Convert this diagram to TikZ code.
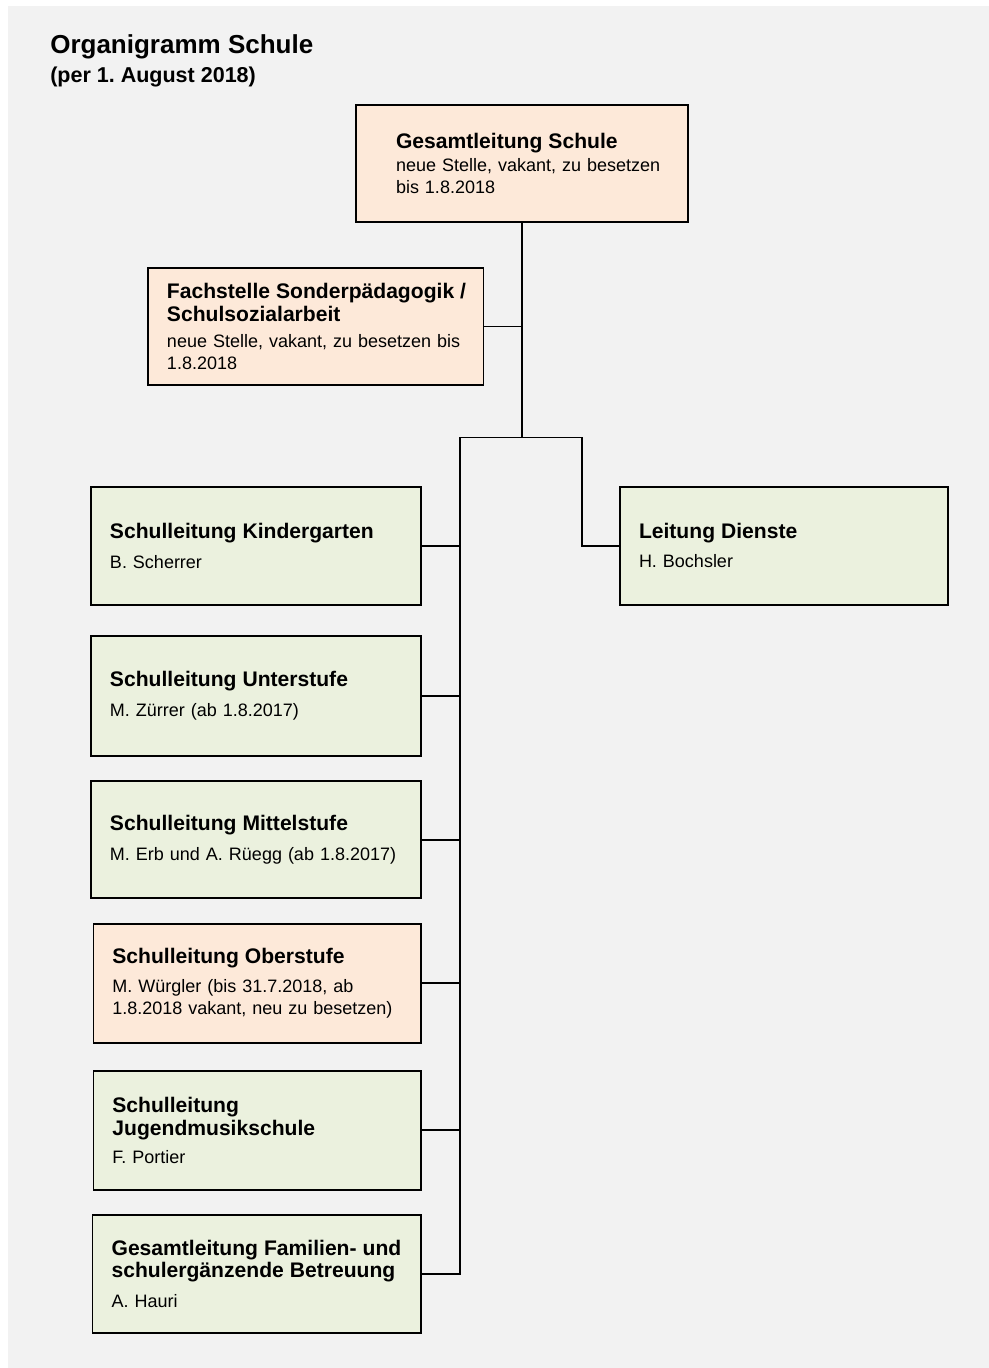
\documentclass[tikz,border=0pt]{standalone}
\usepackage{fontspec}
\setmainfont{Liberation Sans}
\frenchspacing
\definecolor{hintergrund}{HTML}{F2F2F2}
\definecolor{vakant}{HTML}{FDE9D9}
\definecolor{besetzt}{HTML}{EBF1DE}
\newcommand\stellentitel{\fontsize{15pt}{16pt}\selectfont\bfseries}
\newcommand\einzug{\hspace*{5.25mm}}
\tikzset{
  stelle/.style={draw, line width=1.2pt, fill=besetzt, align=left,
    inner xsep=4.75mm, inner ysep=0pt, text width=72.6mm, minimum height=29.5mm,
    font=\fontsize{12.8pt}{15.3pt}\selectfont},
  link/.style={line width=1.2pt}
}
\begin{document}
\begin{tikzpicture}[x=0.25mm,y=-0.25mm]
\fill[white] (0,0) rectangle (989,1368);
\fill[hintergrund] (8,6) rectangle (989,1368);

\node[anchor=base west, inner sep=0pt, font=\fontsize{18.5pt}{20pt}\selectfont\bfseries] (titel) at (50,53) {Organigramm Schule};
\node[anchor=base west, inner sep=0pt, font=\fontsize{15.3pt}{17pt}\selectfont\bfseries] (datum) at (50,82) {(per 1. August 2018)};

\node[stelle, fill=vakant, text width=73.5mm, minimum height=29.25mm] (gesamt) at (522,163.5)
  {{\stellentitel\einzug Gesamtleitung Schule\\[1pt]}\einzug neue Stelle, vakant, zu besetzen\\\einzug bis 1.8.2018};
\node[stelle, fill=vakant, text width=74.4mm, minimum height=29.3mm] (fach) at (315.8,326.4)
  {{\stellentitel\mbox{Fachstelle Sonderpädagogik /}\\Schulsozialarbeit\\[3.5pt]}neue Stelle, vakant, zu besetzen bis\\1.8.2018};

\node[stelle, text width=73mm] (kiga) at (256,546)
  {{\stellentitel Schulleitung Kindergarten\\[5.5pt]}B. Scherrer};
\node[stelle, text width=73mm, minimum height=30mm] (unter) at (256,695.7)
  {{\stellentitel Schulleitung Unterstufe\\[5.5pt]}M. Zürrer (ab 1.8.2017)};
\node[stelle, text width=73mm, minimum height=29.3mm] (mittel) at (256,839.7)
  {{\stellentitel Schulleitung Mittelstufe\\[5.5pt]}M. Erb und A. Rüegg (ab 1.8.2017)};
\node[stelle, fill=vakant, text width=72.4mm, minimum height=29.7mm] (ober) at (257.2,983.3)
  {{\stellentitel Schulleitung Oberstufe\\[5.5pt]}M. Würgler (bis 31.7.2018, ab\\1.8.2018 vakant, neu zu besetzen)};
\node[stelle, text width=72.4mm, minimum height=29.8mm] (jms) at (257.2,1130.3)
  {{\stellentitel Schulleitung\\Jugendmusikschule\\[4.5pt]}F. Portier};
\node[stelle] (familien) at (256.8,1273.8)
  {{\stellentitel Gesamtleitung Familien- und\\schulergänzende Betreuung\\[5.5pt]}A. Hauri};

\node[stelle, text width=72.5mm] (dienste) at (784,545.8)
  {{\stellentitel Leitung Dienste\\[5.5pt]}H. Bochsler};

\coordinate (gabel) at (522,437.5);
\coordinate (links) at (460,437.5);
\coordinate (rechts) at (581.7,437.5);

\draw[link] (gesamt.south) -- (gabel);
\draw[link] (fach.east) -- (fach.east -| gabel);
\draw[link] (familien.east) -| (links) -- (rechts) |- (dienste.west);
\foreach \n in {kiga,unter,mittel,ober,jms}
  \draw[link] (\n.east) -- (\n.east -| links);
\end{tikzpicture}
\end{document}
